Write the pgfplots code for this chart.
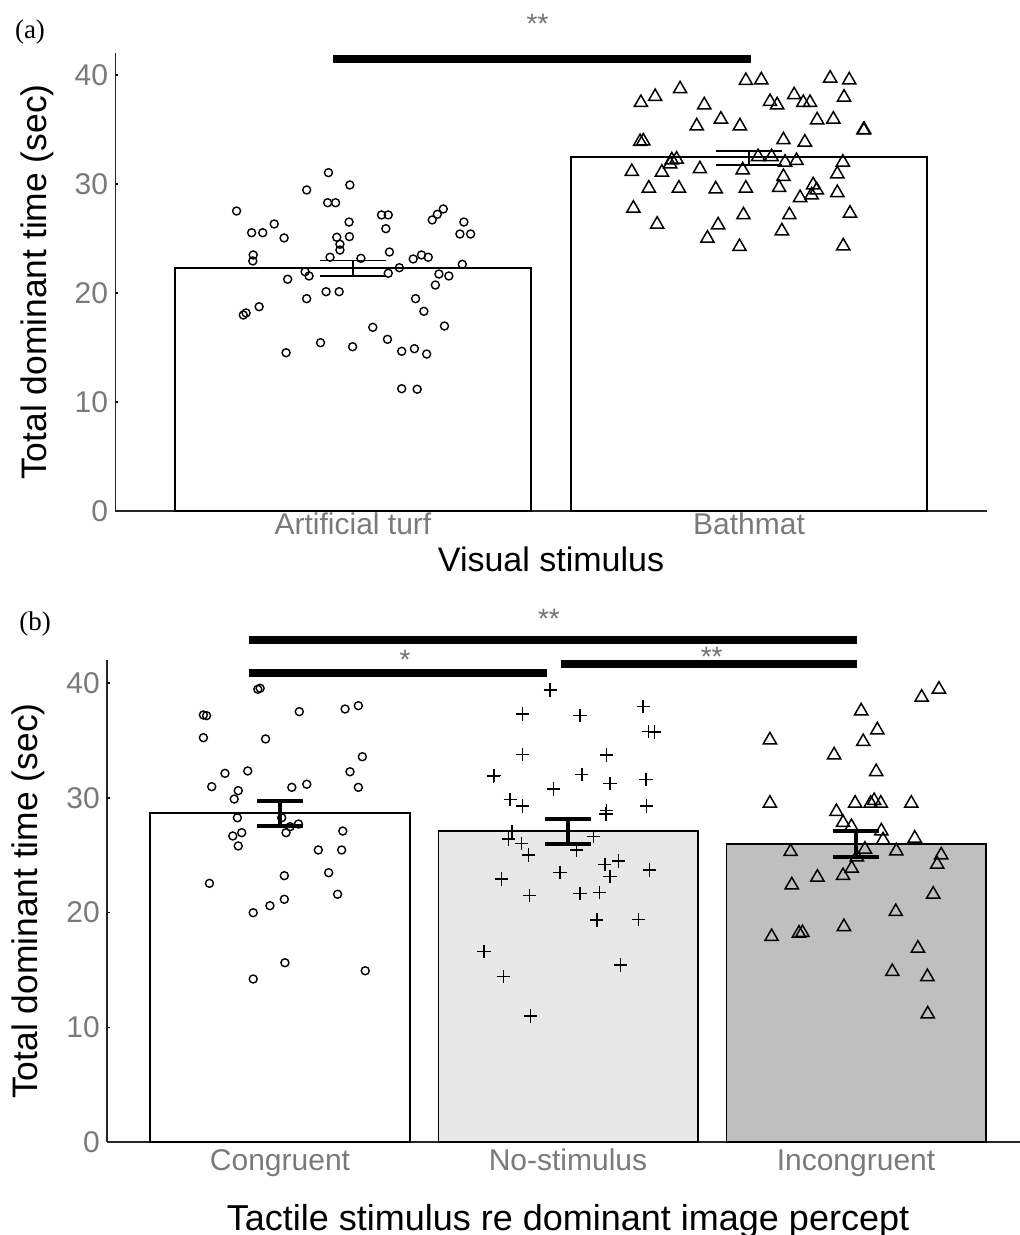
\documentclass[border=0pt]{standalone}
\usepackage{fontspec}
\setmainfont{Liberation Sans}
\newfontfamily\seriffont{Liberation Serif}
\usepackage{pgfplots}
\pgfplotsset{compat=1.18}

\definecolor{tickgray}{gray}{0.48}
\definecolor{stargray}{gray}{0.45}
\definecolor{nostim}{gray}{0.91}
\definecolor{incong}{gray}{0.75}

\pgfplotsset{
  panel/.style={
    scale only axis, anchor=south west,
    axis lines=left, axis line style={-, line width=0.9pt, black!85},
    ymin=0, ymax=42, ytick={0,10,20,30,40},
    tick align=inside, major tick length=1.5pt,
    tick style={black, line width=0.8pt},
    tick label style={font=\fontsize{15}{18}\selectfont, text=tickgray},
    /pgf/number format/assume math mode=true,
    yticklabel style={inner sep=0pt, xshift=-3.5pt},
    clip=false,
    ylabel={Total dominant time (sec)},
  },
  bar/.style={ybar, bar width=0.9, bar shift=0pt, draw=black, line width=0.9pt},
  dots/.style={only marks, mark=o, mark size=2pt, mark options={solid, black, line width=0.7pt}},
  tris/.style={only marks, mark=triangle, mark size=3.8pt, mark options={solid, black, line width=0.75pt}},
  plus/.style={only marks, mark=+, mark size=3.3pt, mark options={solid, black, line width=0.7pt}},
  sig/.style={black, line width=3.8pt, no marks, forget plot},
}

\begin{document}
\begin{tikzpicture}

% ---------------- panel (a) ----------------
\begin{axis}[panel,
  at={(57.7pt,362pt)}, width=435.6pt, height=228.9pt,
  xmin=0.4, xmax=2.6, xtick={1,2}, xticklabels={Artificial turf,Bathmat},
  xticklabel style={inner sep=0pt, text height=10.8pt, text depth=3pt, yshift=-1pt},
  xlabel={Visual stimulus},
  xlabel style={at={(axis description cs:0.5,-0.1332)}, anchor=base, font=\fontsize{17}{20}\selectfont},
  ylabel style={at={(axis description cs:-0.090,0.5)}, anchor=center, font=\fontsize{17.7}{20}\selectfont},
]
\addplot[bar, fill=white, error bars/.cd, y dir=both, y explicit,
  error bar style={line width=0.75pt, black},
  error mark options={rotate=90, mark size=16.5pt, line width=0.75pt, black}]
  coordinates {(1,22.27) +- (0,0.70)};
\addplot[bar, fill=white, error bars/.cd, y dir=both, y explicit,
  error bar style={line width=0.75pt, black},
  error mark options={rotate=90, mark size=16.5pt, line width=0.75pt, black}]
  coordinates {(2,32.45) += (0,0.58) -= (0,0.71)};

\addplot[dots] table {
0.938 31.04
0.992 29.91
0.883 29.45
0.936 28.28
0.956 28.28
0.706 27.52
1.228 27.71
1.213 27.22
1.200 26.70
1.072 27.16
1.089 27.16
0.801 26.33
0.744 25.53
0.772 25.53
0.826 25.05
0.990 26.51
1.280 26.51
1.083 25.90
1.270 25.41
1.297 25.41
0.959 25.11
0.991 25.17
0.967 24.47
0.967 23.94
0.748 23.49
0.747 22.94
0.942 23.28
1.020 23.18
1.092 23.76
1.152 23.12
1.173 23.49
1.190 23.28
1.276 22.63
0.879 21.95
0.889 21.56
1.117 22.32
1.089 21.81
0.835 21.26
1.217 21.74
1.242 21.56
1.208 20.73
0.932 20.12
0.965 20.12
0.883 19.48
1.158 19.48
0.763 18.74
0.723 17.98
0.730 18.17
1.179 18.32
1.231 16.97
1.050 16.85
1.087 15.75
0.918 15.44
0.999 15.07
1.123 14.65
1.155 14.89
1.186 14.40
0.831 14.52
1.123 11.22
1.162 11.17
};

\addplot[tris] table {
1.992 39.48
2.031 39.54
2.205 39.70
2.253 39.54
1.826 38.72
1.763 38.01
1.727 37.46
1.887 37.25
2.053 37.55
2.071 37.25
2.114 38.17
2.137 37.46
2.154 37.46
2.240 37.95
1.929 35.94
1.868 35.32
1.977 35.32
2.172 35.87
2.213 35.94
2.289 34.95
2.291 34.97
1.725 33.88
1.733 33.94
2.087 34.04
2.141 33.83
1.805 32.20
1.817 32.27
1.801 31.83
2.023 32.50
2.057 32.50
2.091 31.99
2.120 32.14
2.237 31.99
1.704 31.13
1.780 31.07
1.876 31.38
1.984 31.28
2.087 30.67
2.223 30.92
1.747 29.61
1.823 29.61
1.916 29.54
1.992 29.61
2.076 29.66
2.162 29.91
2.171 29.45
2.158 28.99
2.129 28.74
2.223 29.20
1.708 27.77
1.986 27.16
2.102 27.16
2.255 27.31
1.768 26.30
1.922 26.24
1.895 25.02
2.083 25.69
1.976 24.25
2.238 24.31
};

\addplot[sig] coordinates {(0.949,41.47) (2.005,41.47)};
\node[text=stargray, font=\fontsize{14}{14}\selectfont] at (axis cs:1.466,44.65) {**};
\end{axis}

% ---------------- panel (b) ----------------
\begin{axis}[panel,
  at={(53.6pt,46.5pt)}, width=460.8pt, height=240.87pt,
  xmin=0.4, xmax=3.6, xtick={1,2,3}, xticklabels={Congruent,No-stimulus,Incongruent},
  xticklabel style={inner sep=0pt, text height=10.8pt, text depth=3pt, yshift=-3pt},
  xlabel={Tactile stimulus re dominant image percept},
  xlabel style={at={(axis description cs:0.5,-0.1827)}, anchor=base, font=\fontsize{18}{20}\selectfont},
  ylabel style={at={(axis description cs:-0.0859,0.5)}, anchor=center, font=\fontsize{17.7}{20}\selectfont},
]
\addplot[bar, fill=white, error bars/.cd, y dir=both, y explicit,
  error bar style={line width=2pt, black},
  error mark options={rotate=90, mark size=11.5pt, line width=2pt, black}]
  coordinates {(1,28.65) +- (0,1.09)};
\addplot[bar, fill=nostim, error bars/.cd, y dir=both, y explicit,
  error bar style={line width=2pt, black},
  error mark options={rotate=90, mark size=11.5pt, line width=2pt, black}]
  coordinates {(2,27.11) +- (0,1.09)};
\addplot[bar, fill=incong, error bars/.cd, y dir=both, y explicit,
  error bar style={line width=2pt, black},
  error mark options={rotate=90, mark size=11.5pt, line width=2pt, black}]
  coordinates {(3,25.98) +- (0,1.13)};

\addplot[dots] table {
0.923 39.47
0.931 39.56
0.734 37.23
0.745 37.17
1.067 37.52
1.226 37.75
1.272 38.04
0.734 35.25
0.950 35.14
1.286 33.59
0.809 32.14
0.888 32.35
1.243 32.28
0.763 30.98
0.855 30.63
0.841 29.90
1.041 30.92
1.093 31.19
1.272 30.92
0.852 28.27
1.006 28.27
0.867 26.97
0.836 26.68
0.855 25.81
1.021 26.97
1.064 27.72
1.035 27.49
1.218 27.11
1.133 25.46
1.214 25.46
1.015 23.22
1.169 23.48
0.755 22.55
1.200 21.60
1.015 21.16
0.965 20.60
0.907 19.99
1.017 15.63
0.907 14.21
1.296 14.93
};

\addplot[plus] table {
1.938 39.41
1.842 37.31
2.042 37.17
2.261 37.95
2.279 35.77
2.301 35.75
1.842 33.80
2.134 33.74
1.741 31.91
1.745 31.95
2.048 32.06
2.146 31.27
2.271 31.62
1.949 30.78
1.799 29.88
1.843 29.29
2.273 29.29
2.134 28.88
2.132 28.60
1.805 27.05
1.793 26.42
1.839 26.04
2.088 26.62
1.862 25.02
2.030 25.46
2.128 24.21
2.175 24.50
1.972 23.51
2.146 23.13
2.282 23.71
1.770 22.93
1.866 21.47
2.042 21.68
2.109 21.77
2.100 19.35
2.244 19.42
1.708 16.59
2.183 15.43
1.775 14.41
1.870 10.99
};

\addplot[tris] table {
3.288 39.47
3.228 38.77
3.018 37.58
3.074 35.92
3.025 34.90
2.701 35.05
2.924 33.74
3.070 32.28
2.701 29.53
2.997 29.53
3.051 29.53
3.063 29.76
3.086 29.53
3.192 29.53
2.932 28.80
2.955 27.84
2.984 27.49
3.088 27.11
3.094 26.33
3.204 26.48
2.773 25.31
3.140 25.37
3.031 25.52
3.296 25.02
3.282 24.21
2.985 23.86
2.955 23.22
2.866 23.08
2.777 22.41
3.268 21.60
3.138 20.08
2.958 18.77
2.707 17.90
2.802 18.20
2.814 18.25
3.215 16.89
3.126 14.85
3.248 14.41
3.249 11.16
3.003 24.85
};

\addplot[sig] coordinates {(0.892,43.77) (3.003,43.77)};
\addplot[sig] coordinates {(0.892,40.89) (1.927,40.89)};
\addplot[sig] coordinates {(1.976,41.67) (3.003,41.67)};
\node[text=stargray, font=\fontsize{14}{14}\selectfont] at (axis cs:1.934,45.6) {**};
\node[text=stargray, font=\fontsize{14}{14}\selectfont] at (axis cs:1.434,42.05) {*};
\node[text=stargray, font=\fontsize{14}{14}\selectfont] at (axis cs:2.499,42.3) {**};
\end{axis}

\node[font=\seriffont\fontsize{13.5}{14}\selectfont] at (15pt,601.5pt) {(a)};
\node[font=\seriffont\fontsize{13.5}{14}\selectfont] at (17.5pt,305.5pt) {(b)};

\pgfresetboundingbox
\path[use as bounding box] (0,0) rectangle (509.5pt,617.5pt);
\end{tikzpicture}
\end{document}
